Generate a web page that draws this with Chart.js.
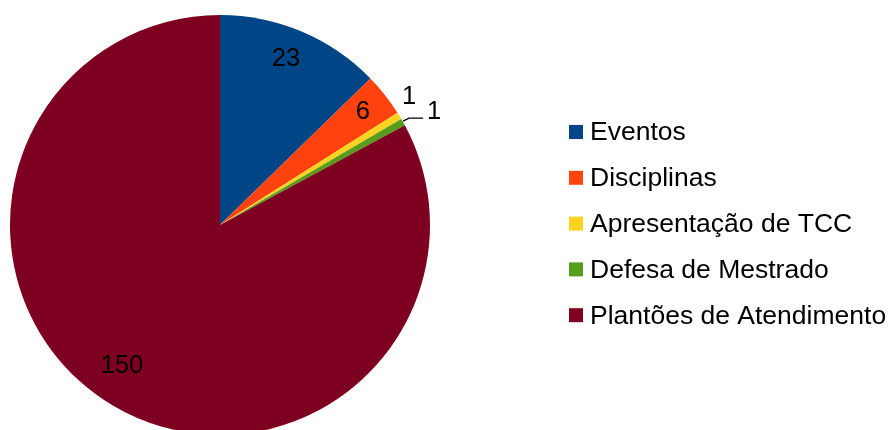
<!DOCTYPE html>
<html>
<head>
<meta charset="utf-8">
<script src="https://cdn.jsdelivr.net/npm/chart.js@4/dist/chart.umd.min.js"></script>
<style>
    html, body { margin: 0; padding: 0; background: #fff; overflow: hidden; }
    #wrap { position: relative; width: 889px; height: 440px; }
</style>
</head>
<body>
<div id="wrap"><canvas id="pieChart"></canvas></div>
<script>
// Data
const categories = ['Eventos', 'Disciplinas', 'Apresentação de TCC', 'Defesa de Mestrado', 'Plantões de Atendimento'];
const values = [23, 6, 1, 1, 150];
const colors = ['#004586', '#ff420e', '#ffd320', '#579d1c', '#7e0021'];

const FONT = "'Liberation Sans', Arial, sans-serif";
const DEG = Math.PI / 180;

// Value labels: inside for big slices, outside for the tiny ones
const labelPlugin = {
    id: 'sliceLabels',
    afterDatasetsDraw(chart, args, opts) {
        const ctx = chart.ctx;
        const arcs = chart.getDatasetMeta(0).data;
        ctx.save();
        ctx.fillStyle = '#000';
        ctx.font = `25.5px ${FONT}`;
        ctx.textBaseline = 'middle';
        arcs.forEach((arc, i) => {
            const { x, y, startAngle, endAngle, outerRadius } = arc.getProps(['x', 'y', 'startAngle', 'endAngle', 'outerRadius'], true);
            const mid = (startAngle + endAngle) / 2;
            const text = String(values[i]);
            if (i === 3) {
                // leader line to the outside label
                const sx = x + Math.cos(mid) * outerRadius;
                const sy = y + Math.sin(mid) * outerRadius;
                ctx.strokeStyle = '#000';
                ctx.lineWidth = 1.2;
                ctx.beginPath();
                ctx.moveTo(sx, sy - 1);
                ctx.lineTo(sx + 6, sy - 4);
                ctx.lineTo(sx + 20, sy - 4);
                ctx.stroke();
                ctx.textAlign = 'left';
                ctx.fillText(text, sx + 24, sy - 10);
                return;
            }
            const rr = opts.outside[i] ? outerRadius + opts.radius[i] : outerRadius * opts.radius[i];
            const a = mid + opts.shift[i] * DEG;
            ctx.textAlign = 'center';
            ctx.fillText(text, x + Math.cos(a) * rr, y + Math.sin(a) * rr + 1);
        });
        ctx.restore();
    }
};

// Legend on the right
const legendPlugin = {
    id: 'sideLegend',
    afterDraw(chart) {
        const ctx = chart.ctx;
        const colorsUsed = chart.data.datasets[0].backgroundColor;
        ctx.save();
        ctx.font = `26.5px ${FONT}`;
        ctx.textBaseline = 'middle';
        ctx.textAlign = 'left';
        chart.data.labels.forEach((lbl, i) => {
            const cy = 132 + i * 45.8;
            ctx.fillStyle = colorsUsed[i];
            ctx.fillRect(569, cy - 7, 14, 14);
            ctx.fillStyle = '#000';
            ctx.fillText(lbl, 590, cy + 1);
        });
        ctx.restore();
    }
};

new Chart(document.getElementById('pieChart'), {
    type: 'pie',
    data: {
        labels: categories,
        datasets: [{
            data: values,
            backgroundColor: colors,
            borderWidth: 0
        }]
    },
    options: {
        responsive: true,
        maintainAspectRatio: false,
        animation: false,
        layout: { padding: { left: 10, right: 459, top: 15, bottom: 5 } },
        plugins: {
            legend: { display: false },
            tooltip: { enabled: false },
            sliceLabels: {
                radius: [0.857, 0.872, 19, 0, 0.815],
                outside: [false, false, true, false, false],
                shift: [-1.4, -0.4, -3, 0, 4.1]
            }
        }
    },
    plugins: [labelPlugin, legendPlugin]
});
</script>
</body>
</html>
